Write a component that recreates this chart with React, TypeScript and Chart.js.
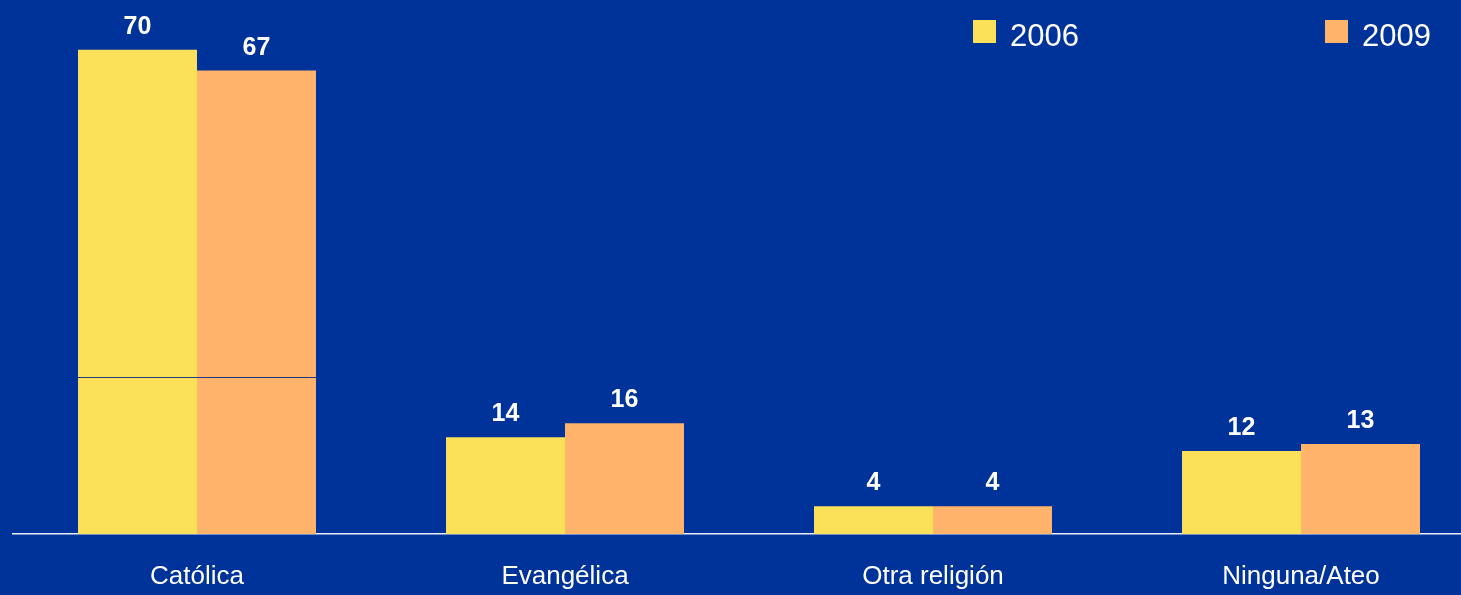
import React, { useEffect, useRef } from "react";
import { Chart, registerables } from "chart.js";

Chart.register(...registerables);

const categories = ["Católica", "Evangélica", "Otra religión", "Ninguna/Ateo"];
const seriesNames = ["2006", "2009"];
const values2006 = [70, 14, 4, 12];
const values2009 = [67, 16, 4, 13];
const seriesColors = ["#FBE159", "#FFB36B"];
const catolicaSplitValue = 22.7;

const BG = "#003399";
const FONT = "'Liberation Sans', Arial, Helvetica, sans-serif";

export default function App() {
  const ref = useRef<HTMLCanvasElement | null>(null);

  useEffect(() => {
    document.body.style.margin = "0";
    document.body.style.overflow = "hidden";
    document.body.style.background = BG;
    const canvas = ref.current;
    if (!canvas) return;

    const bgPlugin = {
      id: "bg",
      beforeDraw(chart: any) {
        const { ctx, width, height } = chart;
        ctx.save();
        ctx.fillStyle = BG;
        ctx.fillRect(0, 0, width, height);
        ctx.restore();
      },
    };

    const splitPlugin = {
      id: "split",
      afterDatasetsDraw(chart: any) {
        const y = chart.scales.y.getPixelForValue(catolicaSplitValue);
        const a = chart.getDatasetMeta(0).data[0];
        const b = chart.getDatasetMeta(1).data[0];
        if (!a || !b) return;
        const x0 = a.x - a.width / 2;
        const x1 = b.x + b.width / 2;
        const ctx = chart.ctx;
        ctx.save();
        ctx.strokeStyle = "#1F3A80";
        ctx.lineWidth = 1;
        ctx.beginPath();
        ctx.moveTo(x0, Math.round(y) + 0.5);
        ctx.lineTo(x1, Math.round(y) + 0.5);
        ctx.stroke();
        ctx.restore();
      },
    };

    const labelPlugin = {
      id: "vals",
      afterDatasetsDraw(chart: any) {
        const ctx = chart.ctx;
        ctx.save();
        ctx.fillStyle = "#FFFFFF";
        ctx.font = `bold 25px ${FONT}`;
        ctx.textAlign = "center";
        ctx.textBaseline = "alphabetic";
        chart.data.datasets.forEach((ds: any, di: number) => {
          const meta = chart.getDatasetMeta(di);
          meta.data.forEach((el: any, i: number) => {
            ctx.fillText(String(ds.data[i]), el.x, el.y - 16);
          });
        });
        ctx.restore();
      },
    };

    const legendPlugin = {
      id: "customLegend",
      afterDraw(chart: any) {
        const ctx = chart.ctx;
        const positions = [973, 1325];
        ctx.save();
        ctx.font = `31px ${FONT}`;
        ctx.textAlign = "left";
        ctx.textBaseline = "alphabetic";
        chart.data.datasets.forEach((ds: any, i: number) => {
          const x = positions[i];
          ctx.fillStyle = ds.backgroundColor;
          ctx.fillRect(x, 20, 23, 23);
          ctx.fillStyle = "#FFFFFF";
          ctx.fillText(ds.label, x + 37, 46);
        });
        ctx.restore();
      },
    };

    const chart = new Chart(canvas, {
      type: "bar",
      data: {
        labels: categories,
        datasets: [
          { label: seriesNames[0], data: values2006, backgroundColor: seriesColors[0], borderWidth: 0 },
          { label: seriesNames[1], data: values2009, backgroundColor: seriesColors[1], borderWidth: 0 },
        ],
      },
      options: {
        responsive: false,
        animation: false,
        layout: { padding: { left: 13, right: 5, top: 0, bottom: 0 } },
        datasets: {
          bar: { barPercentage: 1, categoryPercentage: 0.6467 },
        },
        plugins: {
          legend: { display: false },
          tooltip: { enabled: false },
        },
        scales: {
          x: {
            grid: { display: false, drawTicks: false },
            border: { display: true, color: "#E8EEF8", width: 1.5 },
            ticks: {
              color: "#FFFFFF",
              font: { family: FONT, size: 26 },
              padding: 27,
            },
            afterFit(scale: any) {
              scale.height = 61;
            },
          },
          y: {
            display: false,
            min: 0,
            max: 77.2,
          },
        },
      },
      plugins: [bgPlugin, splitPlugin, labelPlugin, legendPlugin],
    });

    return () => chart.destroy();
  }, []);

  return (
    <div
      style={{
        position: "absolute",
        left: 0,
        top: 0,
        width: 1461,
        height: 595,
        overflow: "hidden",
        background: BG,
      }}
    >
      <canvas ref={ref} width={1490} height={595} style={{ display: "block" }} />
    </div>
  );
}
